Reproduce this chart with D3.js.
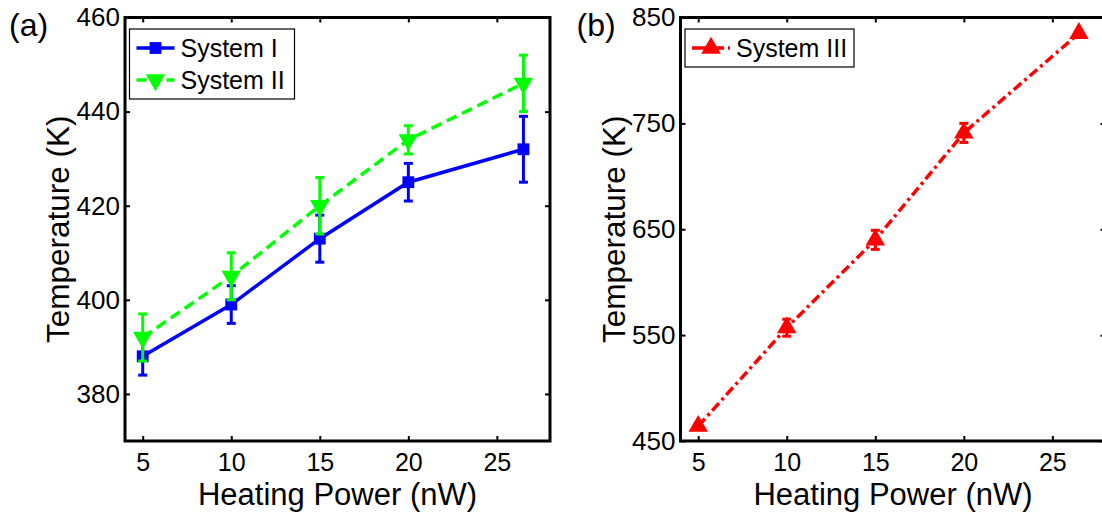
<!DOCTYPE html>
<html><head><meta charset="utf-8">
<script src="https://cdn.jsdelivr.net/npm/d3@7"></script>
<style>
body{margin:0;background:#fff;}
svg{display:block;font-family:"Liberation Sans",Arial,sans-serif;}
</style></head>
<body><svg id="c" width="1102" height="512"></svg>
<script>
// ---- data ----
const power = [5, 10, 15, 20, 26.5];
const sys1 = [388, 399, 413, 425, 432];
const sys1Err = [4, 4, 5, 4, 7];
const sys2 = [392, 405, 420, 434, 446];
const sys2Err = [5, 5, 6, 3, 6];
const sys3 = [464, 557, 640, 741, 835];
const sys3Err = [2, 8, 9, 9, 2];
const xTicks = [5, 10, 15, 20, 25];
const yTicksA = [380, 400, 420, 440, 460];
const yTicksB = [450, 550, 650, 750, 850];

const svg = d3.select("#c");
const W = 425, H = 423.5, TOP = 17.5;

function panel(left, label, yDomain, yTicks, series, legendW){
  const g = svg.append("g").attr("transform", `translate(${left},${TOP})`);
  const x = d3.scaleLinear().domain([4, 28]).range([0, W]);
  const y = d3.scaleLinear().domain(yDomain).range([H, 0]);

  // axes (inward ticks on all sides)
  const axB = g.append("g").attr("transform", `translate(0,${H})`)
    .call(d3.axisBottom(x).tickValues(xTicks).tickSize(-5).tickPadding(12).tickFormat(d3.format("d")));
  const axT = g.append("g").call(d3.axisTop(x).tickValues(xTicks).tickSize(-5).tickFormat(""));
  const axL = g.append("g").call(d3.axisLeft(y).tickValues(yTicks).tickSize(-5).tickPadding(5).tickFormat(d3.format("d")));
  const axR = g.append("g").attr("transform", `translate(${W},0)`)
    .call(d3.axisRight(y).tickValues(yTicks).tickSize(-5).tickFormat(""));
  [axB, axT, axL, axR].forEach(a => {
    a.select(".domain").remove();
    a.selectAll(".tick line").attr("stroke", "#000").attr("stroke-width", 2);
    a.selectAll("text").attr("font-size", 26).attr("fill", "#000")
      .attr("font-family", "Liberation Sans, Arial, sans-serif");
  });
  axB.selectAll("text").attr("font-size", 25).attr("dy", "0.71em");

  // series
  series.forEach(s => {
    const line = d3.line().x((d, i) => x(power[i])).y(d => y(d));
    g.append("path").datum(s.values).attr("d", line)
      .attr("fill", "none").attr("stroke", s.color).attr("stroke-width", 3.5)
      .attr("stroke-dasharray", s.dash);
    // error bars
    s.values.forEach((v, i) => {
      const cx = x(power[i]), y0 = y(v - s.err[i]), y1 = y(v + s.err[i]);
      const eg = g.append("g").attr("stroke", s.color).attr("stroke-width", 3);
      eg.append("line").attr("x1", cx).attr("x2", cx).attr("y1", y0).attr("y2", y1);
      eg.append("line").attr("x1", cx - 4.5).attr("x2", cx + 4.5).attr("y1", y0).attr("y2", y0);
      eg.append("line").attr("x1", cx - 4.5).attr("x2", cx + 4.5).attr("y1", y1).attr("y2", y1);
    });
    g.selectAll(null).data(s.values).enter().append("path")
      .attr("transform", (d, i) => `translate(${x(power[i])},${y(d)})${s.rot ? " rotate(180)" : ""}`)
      .attr("d", d3.symbol().type(s.symbol).size(s.size))
      .attr("fill", s.color);
  });

  // frame
  g.append("rect").attr("x", 0).attr("y", 0).attr("width", W).attr("height", H)
    .attr("fill", "none").attr("stroke", "#000").attr("stroke-width", 3);

  // legend
  const lg = g.append("g").attr("transform", "translate(4.5,11.5)");
  lg.append("rect").attr("x", 0).attr("y", 0).attr("width", legendW).attr("height", series.length * 32 + 6)
    .attr("fill", "#fff").attr("stroke", "#000").attr("stroke-width", 1.2);
  series.forEach((s, i) => {
    const cy = 19 + i * 32;
    lg.append("line").attr("x1", 7).attr("x2", 45).attr("y1", cy).attr("y2", cy)
      .attr("stroke", s.color).attr("stroke-width", 3.5).attr("stroke-dasharray", s.legendDash);
    lg.append("path").attr("transform", `translate(26,${cy})${s.rot ? " rotate(180)" : ""}`)
      .attr("d", d3.symbol().type(s.symbol).size(s.size)).attr("fill", s.color);
    lg.append("text").attr("x", 51).attr("y", cy).attr("dy", "0.36em")
      .attr("font-size", 25).attr("fill", "#000").text(s.name);
  });

  // axis titles
  g.append("text").attr("x", W / 2).attr("y", 487).attr("text-anchor", "middle")
    .attr("font-size", 31).attr("fill", "#000").text("Heating Power (nW)");
  g.append("text").attr("transform", `translate(${-67},${H / 2}) rotate(-90)`)
    .attr("text-anchor", "middle").attr("dy", "0.36em")
    .attr("font-size", 31.5).attr("fill", "#000").text("Temperature (K)");
  // panel label
  g.append("text").attr("x", label === "(a)" ? -116 : -104).attr("y", 18)
    .attr("font-size", 32).attr("fill", "#000").text(label);
}

panel(125, "(a)", [370, 460], yTicksA, [
  {name: "System I", values: sys1, err: sys1Err, color: "#0000ff", dash: null, legendDash: null,
   symbol: d3.symbolSquare, size: 140, rot: false},
  {name: "System II", values: sys2, err: sys2Err, color: "#00ff00", dash: "11,6", legendDash: "10,5",
   symbol: d3.symbolTriangle, size: 165, rot: true}
], 165);

panel(680.5, "(b)", [450, 850], yTicksB, [
  {name: "System III", values: sys3, err: sys3Err, color: "#ff0000", dash: "10,4,3,4", legendDash: "14,4",
   symbol: d3.symbolTriangle, size: 165, rot: false}
], 169);
</script>
</body></html>
